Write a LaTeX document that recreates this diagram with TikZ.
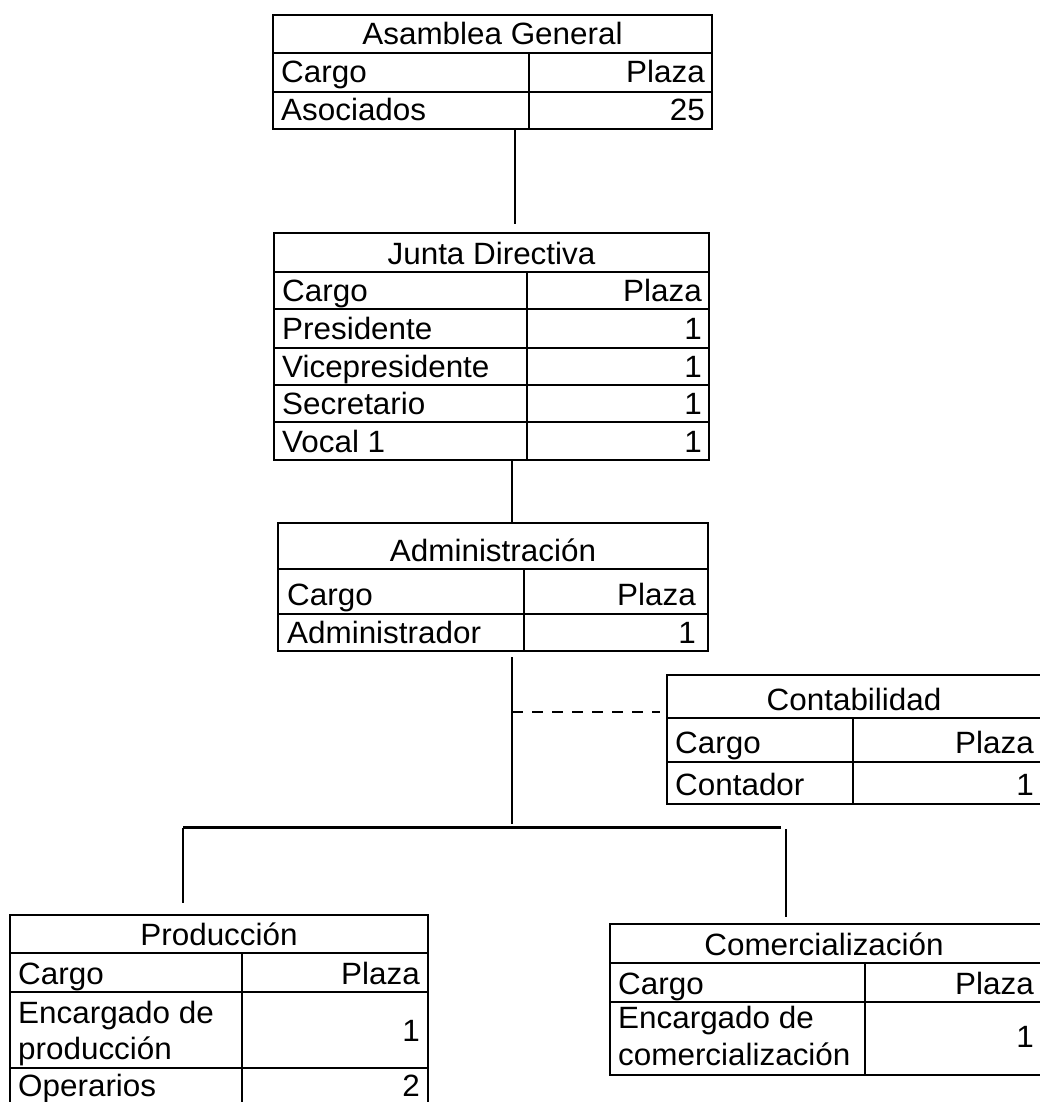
\documentclass[tikz,border=0pt]{standalone}
\usepackage{fontspec}
\setmainfont{Liberation Sans}[FakeStretch=1.02]
\begin{document}
\begin{tikzpicture}[x=1pt,y=-1pt,
  box/.style={draw=black, line width=2pt, inner sep=0pt, outer sep=0pt, anchor=north west},
  rule/.style={draw=black, line width=2pt},
  conn/.style={draw=black, line width=2.4pt},
  dconn/.style={draw=black, line width=2.2pt, dash pattern=on 11pt off 9pt},
  txt/.style={inner sep=0pt, font=\fontsize{30.8}{36}\selectfont},
  lt/.style={txt, anchor=base west},
  rt/.style={txt, anchor=base east},
  ct/.style={txt, anchor=base}]
\useasboundingbox (0,0) rectangle (1040,1102);
\fill[white] (0,0) rectangle (1040,1102);

% ---- Asamblea General
\node[box, minimum width=439pt, minimum height=114pt] (ag) at (273,15) {};
\draw[rule] (273,53) -- (712,53);
\draw[rule] (273,92) -- (712,92);
\draw[rule] (529,53) -- (529,129);
\node[ct] (agt) at (492.5,45) {Asamblea General};
\node[lt] (agc) at (281,83) {Cargo};
\node[rt] (agp) at (705,83) {Plaza};
\node[lt] (aga) at (281,121) {Asociados};
\node[rt] (agn) at (705,121) {25};

% ---- Junta Directiva
\node[box, minimum width=435pt, minimum height=227pt] (jd) at (274,233) {};
\foreach \y in {272,309,348,385,422} \draw[rule] (274,\y) -- (709,\y);
\draw[rule] (527,272) -- (527,460);
\node[ct] (jdt) at (491.5,264) {Junta Directiva};
\node[lt] (jdc) at (282,301) {Cargo};
\node[rt] (jdp) at (702,301) {Plaza};
\node[lt] (jd1) at (282,339) {Presidente};
\node[rt] (jd1n) at (702,339) {1};
\node[lt] (jd2) at (282,377) {Vicepresidente};
\node[rt] (jd2n) at (702,377) {1};
\node[lt] (jd3) at (282,414) {Secretario};
\node[rt] (jd3n) at (702,414) {1};
\node[lt] (jd4) at (282,452) {Vocal 1};
\node[rt] (jd4n) at (702,452) {1};

% ---- Administración
\node[box, minimum width=430pt, minimum height=128pt] (adm) at (278,523) {};
\draw[rule] (278,569) -- (708,569);
\draw[rule] (278,614) -- (708,614);
\draw[rule] (524,569) -- (524,651);
\node[ct] (admt) at (493,561) {Administración};
\node[lt] (admc) at (287,605) {Cargo};
\node[rt] (admp) at (696,605) {Plaza};
\node[lt] (adma) at (287,643) {Administrador};
\node[rt] (admn) at (696,643) {1};

% ---- Contabilidad
\node[box, minimum width=375pt, minimum height=129pt] (cont) at (667,675) {};
\draw[rule] (667,718) -- (1042,718);
\draw[rule] (667,762) -- (1042,762);
\draw[rule] (853,718) -- (853,804);
\node[ct] (contt) at (854,710) {Contabilidad};
\node[lt] (contc) at (675,753) {Cargo};
\node[rt] (contp) at (1034,753) {Plaza};
\node[lt] (conta) at (675,795) {Contador};
\node[rt] (contn) at (1034,795) {1};

% ---- Producción
\node[box, minimum width=418pt, minimum height=189pt] (prod) at (10,915) {};
\draw[rule] (10,953) -- (428,953);
\draw[rule] (10,992) -- (428,992);
\draw[rule] (10,1068) -- (428,1068);
\draw[rule] (242,953) -- (242,1104);
\node[ct] (prodt) at (219,945) {Producción};
\node[lt] (prodc) at (18,984) {Cargo};
\node[rt] (prodp) at (420,984) {Plaza};
\node[lt] (prode1) at (18,1023) {Encargado de};
\node[lt] (prode2) at (18,1059) {producción};
\node[rt] (prodn1) at (420,1041) {1};
\node[lt] (prodo) at (18,1096) {Operarios};
\node[rt] (prodn2) at (420,1096) {2};

% ---- Comercialización
\node[box, minimum width=432pt, minimum height=151pt] (com) at (610,924) {};
\draw[rule] (610,963) -- (1042,963);
\draw[rule] (610,1002) -- (1042,1002);
\draw[rule] (865,963) -- (865,1075);
\node[ct] (comt) at (824,955) {Comercialización};
\node[lt] (comc) at (618,994) {Cargo};
\node[rt] (comp) at (1034,994) {Plaza};
\node[lt] (come1) at (618,1028) {Encargado de};
\node[lt] (come2) at (618,1065) {comercialización};
\node[rt] (comn) at (1034,1047) {1};

% ---- connectors
\coordinate (k1) at (515,224);
\draw[conn] (ag.south -| k1) -- (k1);
\coordinate (kx) at (512,0);
\draw[conn] (jd.south -| kx) -- (adm.north -| kx);
\coordinate (a1) at (512,657);
\coordinate (hub) at (512,824);
\draw[conn] (a1) -- (hub);
\coordinate (d1) at (512,712);
\coordinate (d2) at (660,712);
\draw[dconn] (d1) -- (d2);
\coordinate (bl) at (183,827.5);
\coordinate (br) at (781,827.5);
\draw[conn] (bl) -- (br);
\coordinate (pl) at (183,903);
\draw[conn] (bl) -- (pl);
\coordinate (rt1) at (786,829);
\coordinate (rt2) at (786,917);
\draw[conn] (rt1) -- (rt2);
\end{tikzpicture}
\end{document}
